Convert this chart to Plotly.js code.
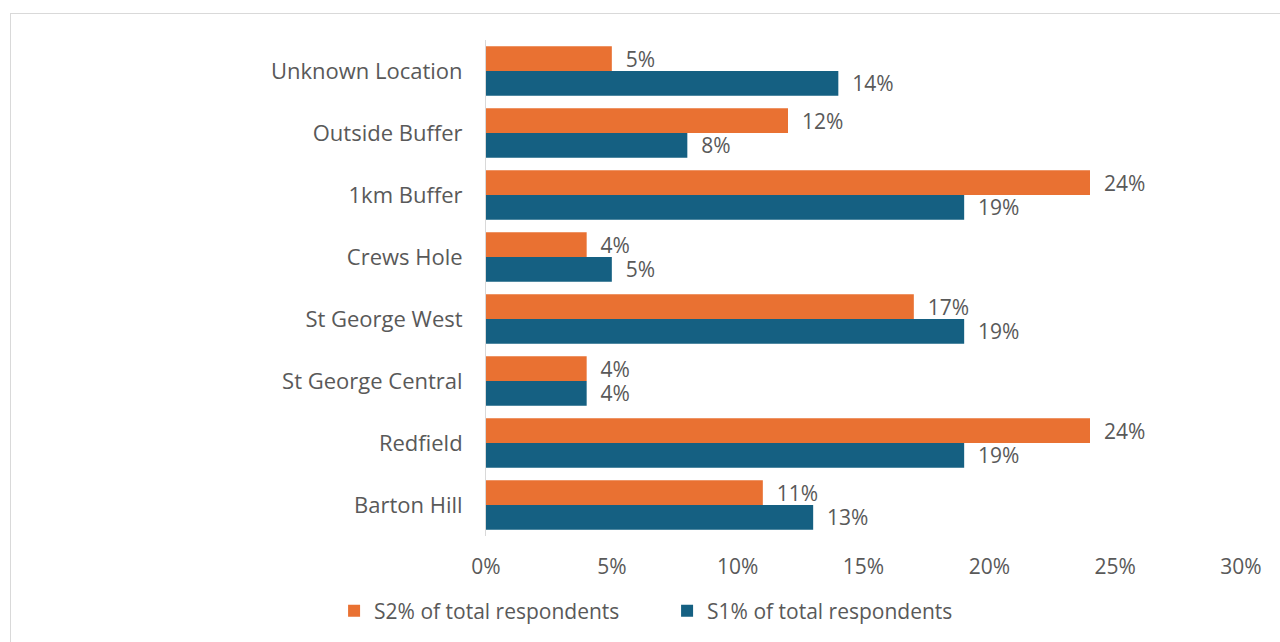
<!DOCTYPE html>
<html>
<head>
<meta charset="utf-8">
<script src="https://cdn.plot.ly/plotly-3.0.1.min.js"></script>
<style>
  html, body { margin: 0; padding: 0; background: #fff; overflow: hidden; }
  #chart { width: 1280px; height: 642px; }
  #frame { position: absolute; left: 10px; top: 13px; width: 1290px; height: 650px;
           border: 1px solid #d9d9d9; box-sizing: border-box; pointer-events: none; }
</style>
</head>
<body>
<div id="chart"></div>
<div id="frame"></div>
<script>
const categories = ["Unknown Location", "Outside Buffer", "1km Buffer", "Crews Hole",
                    "St George West", "St George Central", "Redfield", "Barton Hill"];
const s2Values = [0.05, 0.12, 0.24, 0.04, 0.17, 0.04, 0.24, 0.11];
const s1Values = [0.14, 0.08, 0.19, 0.05, 0.19, 0.04, 0.19, 0.13];
const seriesNames = ["S2% of total respondents", "S1% of total respondents"];
const tickValues = [0, 0.05, 0.10, 0.15, 0.20, 0.25, 0.30];

const fontFamily = "'Open Sans', sans-serif";
const textColor = "#595959";
const fs = 22;

const makeTrace = (name, vals, color) => ({
  type: "bar",
  orientation: "h",
  name: name,
  x: vals,
  y: categories,
  marker: { color: color },
  text: vals.map(v => "\u00a0\u00a0" + Math.round(v * 100) + "%"),
  textposition: "outside",
  constraintext: "none",
  cliponaxis: false,
  textfont: { family: fontFamily, size: fs - 1, color: textColor },
  hoverinfo: "x+y"
});

const traces = [
  makeTrace(seriesNames[0], s2Values, "#E97132"),
  makeTrace(seriesNames[1], s1Values, "#156082")
];

const layout = {
  width: 1280, height: 642,
  margin: { l: 486, r: 39, t: 40, b: 106 },
  paper_bgcolor: "#ffffff",
  plot_bgcolor: "#ffffff",
  barmode: "group",
  bargap: 0.2,
  bargroupgap: 0,
  showlegend: true,
  legend: {
    orientation: "h", traceorder: "normal",
    x: 0.261, xref: "container", xanchor: "left",
    y: 0.048, yref: "container", yanchor: "middle",
    font: { family: fontFamily, size: fs - 1, color: textColor },
    itemwidth: 30,
    entrywidth: 288
  },
  xaxis: {
    range: [0, 0.30],
    tickvals: tickValues,
    ticktext: tickValues.map(v => Math.round(v * 100) + "%"),
    showgrid: false,
    zeroline: false,
    showline: false,
    ticks: "",
    ticklabelstandoff: 16,
    tickfont: { family: fontFamily, size: fs - 1, color: textColor },
    fixedrange: true
  },
  yaxis: {
    type: "category",
    autorange: "reversed",
    categoryorder: "array",
    categoryarray: categories,
    showline: true,
    linecolor: "#d9d9d9",
    linewidth: 1,
    showgrid: false,
    zeroline: false,
    ticks: "",
    ticklabelstandoff: 18,
    tickfont: { family: fontFamily, size: fs, color: textColor },
    fixedrange: true
  },
  font: { family: fontFamily, color: textColor }
};

Plotly.newPlot("chart", traces, layout, { displayModeBar: false, staticPlot: true });
</script>
</body>
</html>
